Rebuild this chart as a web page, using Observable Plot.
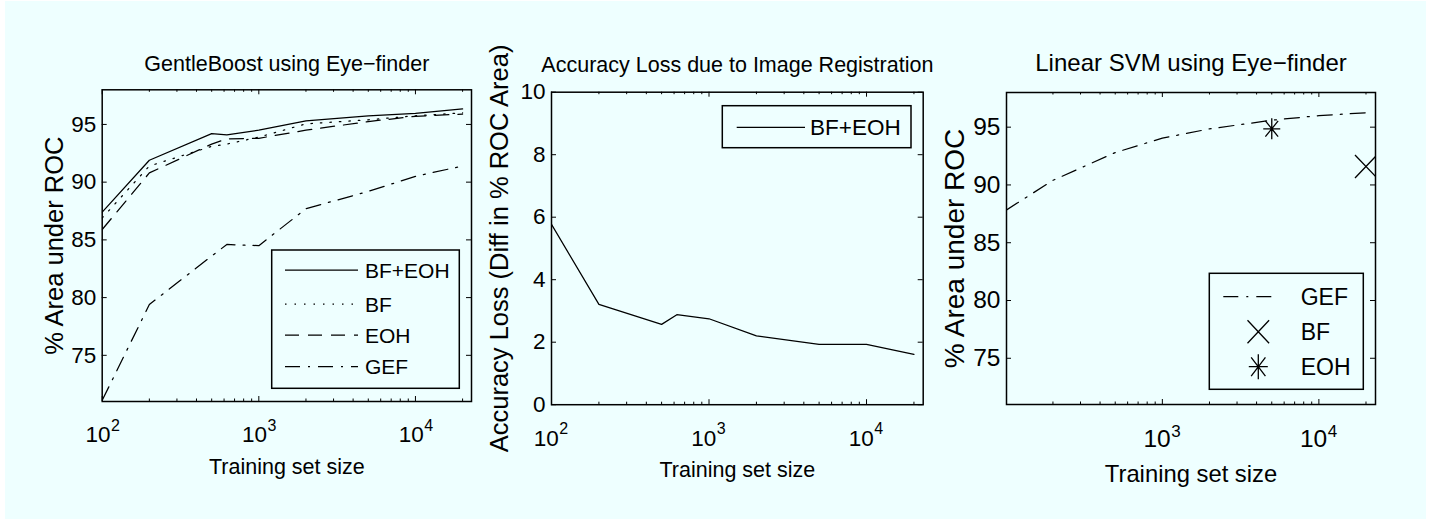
<!DOCTYPE html>
<html><head><meta charset="utf-8">
<script src="https://cdn.jsdelivr.net/npm/d3@7"></script>
<script src="https://cdn.jsdelivr.net/npm/@observablehq/plot@0.6"></script>
<style>
body{margin:0;background:#fff;}
#fig{position:relative;width:1445px;height:519px;overflow:hidden;}
#bg{position:absolute;left:5px;top:1px;width:1421px;height:518px;background:#eeffff;}
svg text{font-family:"Liberation Sans",Arial,Helvetica,sans-serif;}
</style></head><body><div id="fig"><div id="bg"></div></div>
<script>
// ---------- data ----------
const sizes = [100, 200, 500, 625, 1000, 2000, 5000, 10000, 20000];
const gbBfEoh = [87.4, 91.9, 94.2, 94.1, 94.5, 95.3, 95.75, 95.95, 96.35];
const gbBf    = [86.9, 91.4, 93.1, 93.3, 93.9, 95.05, 95.4, 95.75, 96.0];
const gbEoh   = [85.9, 90.8, 93.3, 93.75, 93.8, 94.5, 95.25, 95.7, 95.9];
const gbGef   = [71.1, 79.4, 83.6, 84.6, 84.5, 87.7, 89.2, 90.5, 91.4];
const lossBfEoh = [5.77, 3.21, 2.57, 2.88, 2.75, 2.20, 1.93, 1.93, 1.61];
const svmSizes = [100, 200, 500, 1000, 2000, 5000, 10000, 20000];
const svmGef   = [87.8, 90.4, 92.8, 94.05, 94.85, 95.6, 96.0, 96.25];
const svmBfX = [20000], svmBfY = [91.6];
const svmEohX = [5000], svmEohY = [94.86];
const xMajorTicks = [100, 1000, 10000];
const xTickExp = ["2", "3", "4"];
const xMinorTicks = [200,300,400,500,600,700,800,900,2000,3000,4000,5000,6000,7000,8000,9000,20000];
const rocTicks = [75, 80, 85, 90, 95];
const lossTicks = [0, 2, 4, 6, 8, 10];
const titles = ["GentleBoost using Eye\u2212finder", "Accuracy Loss due to Image Registration", "Linear SVM using Eye\u2212finder"];
const xLabel = "Training set size";
const yLabels = ["% Area under ROC", "Accuracy Loss (Diff in % ROC Area)", "% Area under ROC"];

const W = 1445, H = 519;
const FONT = '"Liberation Sans",Arial,Helvetica,sans-serif';
const DOT = "1.5,8", DASH = "14,9", DASHDOT = "15,8,2,8";
const LW = 1.25;

const tbl = (xs, ys) => xs.map((x, i) => ({x, y: ys[i]}));

function asteriskSym(sx, sy) {
  return {draw(ctx, size) {
    const r = Math.sqrt(size / Math.PI), w = r * sx, h = r * sy;
    ctx.moveTo(0, -h); ctx.lineTo(0, h);
    ctx.moveTo(-w, 0); ctx.lineTo(w, 0);
    ctx.moveTo(-w*0.75, -h*0.75); ctx.lineTo(w*0.75, h*0.75);
    ctx.moveTo(-w*0.75, h*0.75); ctx.lineTo(w*0.75, -h*0.75);
  }};
}
function timesSym(sx, sy) {
  return {draw(ctx, size) {
    const r = Math.sqrt(size / Math.PI), w = r * sx, h = r * sy;
    ctx.moveTo(-w, -h); ctx.lineTo(w, h);
    ctx.moveTo(-w, h); ctx.lineTo(w, -h);
  }};
}

function panel(cfg) {
  const [x0, x1, y0, y1] = cfg.frame;
  const xD = cfg.xDomain, yD = cfg.yDomain;
  const pxDec = (x1 - x0) / Math.log10(xD[1] / xD[0]);
  const pxY = (y1 - y0) / (yD[1] - yD[0]);
  const yu = px => px / pxY;
  const xm = px => Math.pow(10, px / pxDec);
  const majors = xMajorTicks.map((v, i) => ({v, e: xTickExp[i]})).filter(d => d.v >= xD[0] && d.v <= xD[1]);
  const minors = xMinorTicks.filter(v => v >= xD[0] && v <= xD[1]);
  const fs = cfg.fs;
  const marks = [
    ...cfg.marks,
    Plot.ruleX(majors, {x: "v", y1: yD[0], y2: yD[0] + yu(5), stroke: "black", strokeWidth: 1}),
    Plot.ruleX(majors, {x: "v", y1: yD[1], y2: yD[1] - yu(5), stroke: "black", strokeWidth: 1}),
    Plot.ruleX(minors, {x: d => d, y1: yD[0], y2: yD[0] + yu(2.5), stroke: "black", strokeWidth: 1}),
    Plot.ruleX(minors, {x: d => d, y1: yD[1], y2: yD[1] - yu(2.5), stroke: "black", strokeWidth: 1}),
    Plot.ruleY(cfg.yTicks, {y: d => d, x1: xD[0], x2: xD[0] * xm(5), stroke: "black", strokeWidth: 1}),
    Plot.ruleY(cfg.yTicks, {y: d => d, x1: xD[1], x2: xD[1] / xm(5), stroke: "black", strokeWidth: 1}),
    Plot.text(cfg.yTicks, {y: d => d, text: d => String(d), frameAnchor: "left", textAnchor: "end", dx: -6, lineAnchor: "middle", fontSize: fs.tick, fill: "black", fontFamily: FONT}),
    Plot.text(majors, {x: "v", text: () => "10", frameAnchor: "bottom", textAnchor: "end", dx: cfg.tenDx, dy: cfg.tenDy, lineAnchor: "bottom", fontSize: fs.tick, fill: "black", fontFamily: FONT}),
    Plot.text(majors, {x: "v", text: "e", frameAnchor: "bottom", textAnchor: "start", dx: cfg.tenDx + 0.5, dy: cfg.expDy, lineAnchor: "bottom", fontSize: fs.exp, fill: "black", fontFamily: FONT}),
    Plot.text([cfg.title], {text: d => d, frameAnchor: "top", textAnchor: "middle", dy: cfg.titleDy, lineAnchor: "bottom", fontSize: fs.title, fill: "black", fontFamily: FONT}),
    Plot.text([xLabel], {text: d => d, frameAnchor: "bottom", textAnchor: "middle", dy: cfg.xLabDy, lineAnchor: "bottom", fontSize: fs.xlab, fill: "black", fontFamily: FONT}),
    Plot.text([cfg.yLabel], {text: d => d, frameAnchor: "left", textAnchor: "middle", rotate: -90, dx: cfg.yLabDx, lineAnchor: "bottom", fontSize: fs.ylab, fill: "black", fontFamily: FONT}),
    Plot.frame({stroke: "black", strokeWidth: 1.5})
  ];
  const svg = Plot.plot({
    width: W, height: H,
    marginLeft: x0, marginRight: W - x1, marginTop: y0, marginBottom: H - y1,
    x: {type: "log", domain: xD, axis: null},
    y: {type: "linear", domain: yD, axis: null},
    style: {position: "absolute", left: "0px", top: "0px", background: "none", overflow: "visible", fontFamily: FONT},
    marks
  });
  // legend
  const L = cfg.legend;
  const g = d3.select(svg).append("g").attr("text-anchor", "start");
  g.append("rect").attr("x", L.box[0]).attr("y", L.box[2])
    .attr("width", L.box[1] - L.box[0]).attr("height", L.box[3] - L.box[2])
    .attr("fill", "#eeffff").attr("stroke", "black").attr("stroke-width", 1.5);
  L.entries.forEach((e, i) => {
    const y = L.ys[i];
    if (e.dash !== undefined) {
      g.append("line").attr("x1", L.line[0]).attr("x2", L.line[1]).attr("y1", y).attr("y2", y)
        .attr("stroke", "black").attr("stroke-width", LW).attr("stroke-dasharray", e.dash || null);
    }
    if (e.marker) {
      const p = d3.path();
      const mx = L.markerX, w = e.mw, h = e.mh;
      if (e.marker === "x") {
        p.moveTo(mx - w, y - h); p.lineTo(mx + w, y + h);
        p.moveTo(mx - w, y + h); p.lineTo(mx + w, y - h);
      } else {
        p.moveTo(mx, y - h); p.lineTo(mx, y + h);
        p.moveTo(mx - w, y); p.lineTo(mx + w, y);
        p.moveTo(mx - w*0.75, y - h*0.75); p.lineTo(mx + w*0.75, y + h*0.75);
        p.moveTo(mx - w*0.75, y + h*0.75); p.lineTo(mx + w*0.75, y - h*0.75);
      }
      g.append("path").attr("d", p.toString()).attr("fill", "none").attr("stroke", "black").attr("stroke-width", 1.3);
    }
    g.append("text").attr("x", L.textX).attr("y", y).attr("dy", "0.36em").attr("text-anchor", "start")
      .attr("font-size", L.fs).attr("fill", "black").style("font-family", FONT).text(e.label);
  });
  document.getElementById("fig").appendChild(svg);
}

// Panel 1: GentleBoost
panel({
  frame: [101.7, 471, 89.3, 401],
  xDomain: [100, 22800], yDomain: [71, 98], yTicks: rocTicks,
  title: titles[0], yLabel: yLabels[0],
  fs: {tick: 22.5, exp: 16, title: 21.5, xlab: 21.5, ylab: 25.5},
  tenDx: 8.3, tenDy: 40.7, expDy: 29, titleDy: -19.3, xLabDy: 72.3, yLabDx: -38.7,
  marks: [
    Plot.line(tbl(sizes, gbGef), {x: "x", y: "y", stroke: "black", strokeWidth: LW, strokeDasharray: DASHDOT, clip: true}),
    Plot.line(tbl(sizes, gbEoh), {x: "x", y: "y", stroke: "black", strokeWidth: LW, strokeDasharray: DASH, clip: true}),
    Plot.line(tbl(sizes, gbBf), {x: "x", y: "y", stroke: "black", strokeWidth: LW, strokeDasharray: DOT, clip: true}),
    Plot.line(tbl(sizes, gbBfEoh), {x: "x", y: "y", stroke: "black", strokeWidth: LW, clip: true})
  ],
  legend: {box: [271.7, 459.3, 250, 388.3], ys: [270, 304, 335, 366.7], line: [285, 358], textX: 365, fs: 21,
    entries: [{label: "BF+EOH", dash: ""}, {label: "BF", dash: DOT}, {label: "EOH", dash: DASH}, {label: "GEF", dash: DASHDOT}]}
});

// Panel 2: Accuracy loss
panel({
  frame: [551, 922.7, 91.7, 404.2],
  xDomain: [100, 22900], yDomain: [0, 10], yTicks: lossTicks,
  title: titles[1], yLabel: yLabels[1],
  fs: {tick: 22.5, exp: 16, title: 21.5, xlab: 21.5, ylab: 25.5},
  tenDx: 7.3, tenDy: 40.8, expDy: 29, titleDy: -20, xLabDy: 71.8, yLabDx: -44,
  marks: [
    Plot.line(tbl(sizes, lossBfEoh), {x: "x", y: "y", stroke: "black", strokeWidth: LW, clip: true})
  ],
  legend: {box: [722.3, 911, 105.7, 147.7], ys: [127.3], line: [736.7, 805], textX: 810, fs: 22.5,
    entries: [{label: "BF+EOH", dash: ""}]}
});

// Panel 3: Linear SVM
panel({
  frame: [1006, 1375, 92, 404],
  xDomain: [101, 23000], yDomain: [71, 98], yTicks: rocTicks,
  title: titles[2], yLabel: yLabels[2],
  fs: {tick: 24.5, exp: 17, title: 24, xlab: 23.8, ylab: 28},
  tenDx: 8.3, tenDy: 42.7, expDy: 32.7, titleDy: -21.3, xLabDy: 77.7, yLabDx: -43,
  marks: [
    Plot.line(tbl(svmSizes, svmGef), {x: "x", y: "y", stroke: "black", strokeWidth: LW, strokeDasharray: DASHDOT, clip: true}),
    Plot.dot(tbl(svmBfX, svmBfY), {x: "x", y: "y", r: 10, symbol: timesSym(1.1, 1.15), fill: "none", stroke: "black", strokeWidth: 1.3, clip: true}),
    Plot.dot(tbl(svmEohX, svmEohY), {x: "x", y: "y", r: 10, symbol: asteriskSym(0.85, 1.05), fill: "none", stroke: "black", strokeWidth: 1.3, clip: true})
  ],
  legend: {box: [1209.3, 1363.3, 273.3, 389.3], ys: [296.7, 331.7, 366.7], line: [1223.3, 1273.3], textX: 1300.7, fs: 23, markerX: 1258.3,
    entries: [{label: "GEF", dash: DASHDOT}, {label: "BF", marker: "x", mw: 10.8, mh: 11.5}, {label: "EOH", marker: "*", mw: 9.5, mh: 12.5}]}
});
</script></body></html>
